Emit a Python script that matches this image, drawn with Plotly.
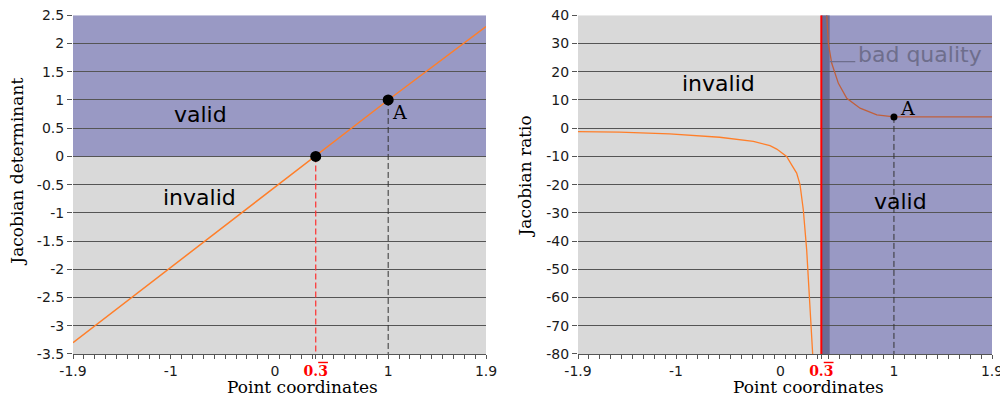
import plotly.graph_objects as go

# ---- data ----
x_ticks = [-1.9, -1, 0, 1/3, 1, 1.9]
x_ticktext = ["-1.9", "-1", "0  ",
              '<span style="color:#ff0000;font-family:DejaVu Serif"><b>0.'
              '<span style="text-decoration:overline">3</span></b></span>',
              "1", "1.9"]
det_yticks = [2.5, 2, 1.5, 1, 0.5, 0, -0.5, -1, -1.5, -2, -2.5, -3, -3.5]
det_yticktext = ["2.5", "2", "1.5", "1", "0.5", "0", "-0.5", "-1", "-1.5", "-2", "-2.5", "-3", "-3.5"]
ratio_yticks = [40, 30, 20, 10, 0, -10, -20, -30, -40, -50, -60, -70, -80]
ratio_yticktext = ["40", "30", "20", "10", "0", "-10", "-20", "-30", "-40", "-50", "-60", "-70", "-80"]

det_x = [-1.9, 1/3, 1, 1.9]
det_y = [-3.3, 0, 1, 2.3]
det_pts_x = [1/3, 1]
det_pts_y = [0, 1]

ratio_neg_x = [-1.9, -1.52, -1.06, -0.6, -0.29, -0.138, -0.076, 0.015, 0.061, 0.107, 0.138,
               0.168, 0.199, 0.223, 0.251, 0.254]
ratio_neg_y = [-1.2, -1.4, -2.0, -3.2, -4.7, -6.2, -7.4, -10.0, -13.0, -15.9, -20.0,
               -28.9, -43.1, -59.6, -78.5, -80]
ratio_pos_x = [0.383, 0.398, 0.429, 0.49, 0.567, 0.689, 0.843, 1.0, 1.3, 1.9]
ratio_pos_y = [40, 30, 23, 15.9, 10.6, 7.1, 4.7, 4.0, 4.0, 4.0]
ratio_A = (1, 4)
bad_band = (1/3, 0.41)
x_range = [-1.9, 1.9]
det_range = [-3.5, 2.5]
ratio_range = [-80, 40]

BLUE = "#9999c4"
GRAY = "#d9d9d9"
DARK = "#6b6b94"
GRID = "#555555"
SANS = "DejaVu Sans"
SERIF = "DejaVu Serif"

fig = go.Figure()

# left chart traces
fig.add_trace(go.Scatter(x=[det_pts_x[0], det_pts_x[0]], y=[det_pts_y[0], det_range[0]],
                         mode="lines", line=dict(color="#ff3030", width=1.2, dash="6px,3px"),
                         xaxis="x", yaxis="y", hoverinfo="skip"))
fig.add_trace(go.Scatter(x=[det_pts_x[1], det_pts_x[1]], y=[det_pts_y[1], det_range[0]],
                         mode="lines", line=dict(color="#333333", width=1, dash="6px,3px"),
                         xaxis="x", yaxis="y", hoverinfo="skip"))
fig.add_trace(go.Scatter(x=det_x, y=det_y, mode="lines",
                         line=dict(color="#ff7f2a", width=1.5), xaxis="x", yaxis="y"))
fig.add_trace(go.Scatter(x=det_pts_x, y=det_pts_y, mode="markers",
                         marker=dict(color="black", size=11), xaxis="x", yaxis="y"))

# right chart traces
fig.add_trace(go.Scatter(x=[ratio_A[0], ratio_A[0]], y=[ratio_A[1], ratio_range[0]],
                         mode="lines", line=dict(color="#333333", width=1, dash="6px,3px"),
                         xaxis="x2", yaxis="y2", hoverinfo="skip"))
fig.add_trace(go.Scatter(x=ratio_neg_x, y=ratio_neg_y, mode="lines",
                         line=dict(color="#ff7f2a", width=1.3), xaxis="x2", yaxis="y2"))
fig.add_trace(go.Scatter(x=ratio_pos_x, y=ratio_pos_y, mode="lines",
                         line=dict(color="#c0603c", width=1.3), xaxis="x2", yaxis="y2"))
fig.add_trace(go.Scatter(x=[bad_band[0], bad_band[0]], y=ratio_range, mode="lines",
                         line=dict(color="#ff0000", width=2), xaxis="x2", yaxis="y2"))
fig.add_trace(go.Scatter(x=[ratio_A[0]], y=[ratio_A[1]], mode="markers",
                         marker=dict(color="black", size=7), xaxis="x2", yaxis="y2"))
fig.add_trace(go.Scatter(x=[bad_band[1], 0.645], y=[23.6, 23.6], mode="lines",
                         line=dict(color="#6e6e8c", width=1.2), xaxis="x2", yaxis="y2"))

shapes = [
    dict(type="rect", xref="x", yref="y", x0=x_range[0], x1=x_range[1], y0=0, y1=det_range[1],
         fillcolor=BLUE, line=dict(width=0), layer="below"),
    dict(type="rect", xref="x", yref="y", x0=x_range[0], x1=x_range[1], y0=det_range[0], y1=0,
         fillcolor=GRAY, line=dict(width=0), layer="below"),
    dict(type="rect", xref="x2", yref="y2", x0=x_range[0], x1=bad_band[0], y0=ratio_range[0],
         y1=ratio_range[1], fillcolor=GRAY, line=dict(width=0), layer="below"),
    dict(type="rect", xref="x2", yref="y2", x0=bad_band[0], x1=x_range[1], y0=ratio_range[0],
         y1=ratio_range[1], fillcolor=BLUE, line=dict(width=0), layer="below"),
    dict(type="rect", xref="x2", yref="y2", x0=bad_band[0], x1=bad_band[1], y0=ratio_range[0],
         y1=ratio_range[1], fillcolor=DARK, line=dict(width=0), layer="below"),
]

annotations = [
    dict(text="valid", x=-0.73, y=0.74, xref="x", yref="y", showarrow=False,
         font=dict(family=SANS, size=22, color="black")),
    dict(text="invalid", x=-0.74, y=-0.73, xref="x", yref="y", showarrow=False,
         font=dict(family=SANS, size=22, color="black")),
    dict(text="A", x=1.016, y=0.79, xref="x", yref="y", xanchor="left", showarrow=False,
         font=dict(family=SERIF, size=19, color="black")),
    dict(text="invalid", x=-0.607, y=16.0, xref="x2", yref="y2", showarrow=False,
         font=dict(family=SANS, size=22, color="black")),
    dict(text="valid", x=1.057, y=-26.1, xref="x2", yref="y2", showarrow=False,
         font=dict(family=SANS, size=22, color="black")),
    dict(text="A", x=1.038, y=7.2, xref="x2", yref="y2", xanchor="left", showarrow=False,
         font=dict(family=SERIF, size=19, color="black")),
    dict(text="bad quality", x=0.651, y=26, xref="x2", yref="y2", xanchor="left", showarrow=False,
         font=dict(family=SANS, size=22, color="#6e6e8c")),
    dict(text="Jacobian determinant", x=0.0, y=0.574, xref="paper", yref="paper",
         xanchor="left", yanchor="middle", xshift=5, textangle=-90, showarrow=False,
         font=dict(family=SERIF, size=17, color="black")),
    dict(text="Jacobian ratio", x=0.525, y=0.562, xref="paper", yref="paper",
         xanchor="center", yanchor="middle", textangle=-90, showarrow=False,
         font=dict(family=SERIF, size=17, color="black")),
    dict(text="Point coordinates", x=0.3025, y=0.0, xref="paper", yref="paper",
         xanchor="center", yanchor="bottom", yshift=4, showarrow=False,
         font=dict(family=SERIF, size=17, color="black")),
    dict(text="Point coordinates", x=0.8085, y=0.0, xref="paper", yref="paper",
         xanchor="center", yanchor="bottom", yshift=4, showarrow=False,
         font=dict(family=SERIF, size=17, color="black")),
]

def xax(domain, anchor):
    return dict(domain=domain, anchor=anchor, range=x_range, tickmode="array",
                tickvals=x_ticks, ticktext=x_ticktext, ticks="outside", ticklen=4,
                tickcolor=GRID, showgrid=False, zeroline=False, showline=True,
                linecolor=GRID, linewidth=1, tickfont=dict(family=SANS, size=14, color="#1a1a1a"),
                ticklabeloverflow="allow",
                minor=dict(dtick=0.1, tick0=-1.9, ticks="outside", ticklen=4, tickcolor=GRID,
                           showgrid=False),
                automargin=False, fixedrange=True)

def yax(domain, anchor, rng, vals, text):
    return dict(domain=domain, anchor=anchor, range=rng, tickmode="array", tickvals=vals,
                ticktext=text, ticks="outside", ticklen=5, tickcolor=GRID, showgrid=True,
                gridcolor=GRID, gridwidth=1, zeroline=False, showline=False,
                tickfont=dict(family=SANS, size=14, color="#1a1a1a"),
                automargin=False, fixedrange=True)

ydom = [0.1216, 0.962]
fig.update_layout(
    width=1000, height=403, margin=dict(l=0, r=0, t=0, b=0, autoexpand=False),
    paper_bgcolor="white", plot_bgcolor="white", showlegend=False,
    xaxis=xax([0.073, 0.486], "y"),
    yaxis=yax(ydom, "x", det_range, det_yticks, det_yticktext),
    xaxis2=xax([0.578, 0.992], "y2"),
    yaxis2=yax(ydom, "x2", ratio_range, ratio_yticks, ratio_yticktext),
    shapes=shapes, annotations=annotations,
)

fig.write_html("out.html", config={"displayModeBar": False},
               post_script="document.body.style.margin='0';document.body.style.padding='0';")
